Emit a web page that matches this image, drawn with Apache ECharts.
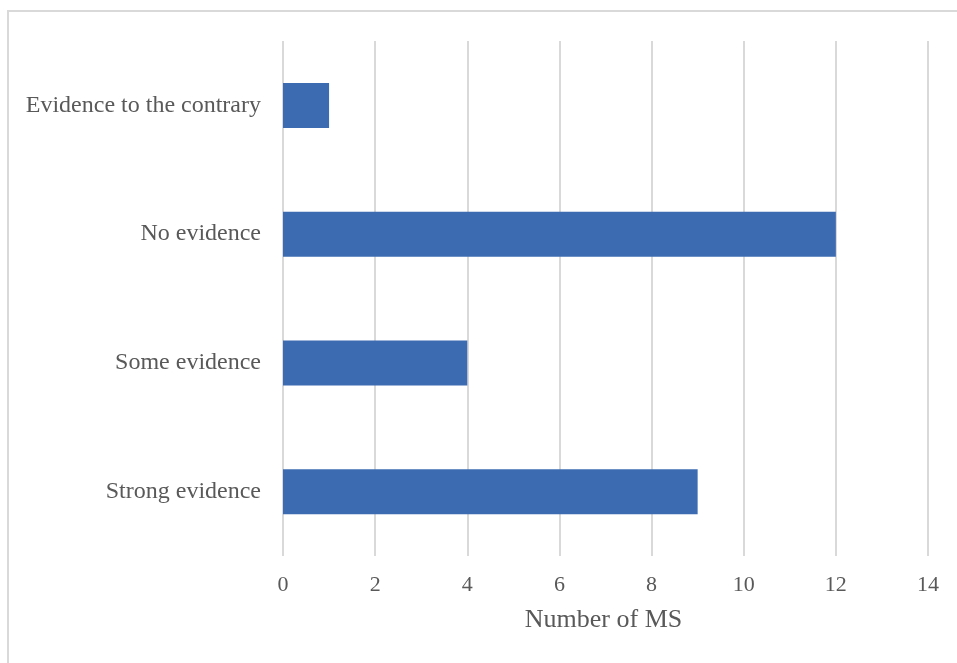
<!DOCTYPE html>
<html><head><meta charset="utf-8">
<script src="https://cdn.jsdelivr.net/npm/echarts@6/dist/echarts.min.js"></script>
<style>html,body{margin:0;padding:0;background:#fff}#c{width:957px;height:663px}</style>
</head><body><div id="c"></div>
<script>
const categories = ["Strong evidence", "Some evidence", "No evidence", "Evidence to the contrary"];
const values = [9, 4, 12, 1];
const xTicks = [0, 2, 4, 6, 8, 10, 12, 14];
const axisTitle = "Number of MS";

const chart = echarts.init(document.getElementById('c'), null, {renderer: 'canvas'});
const font = '"Liberation Serif", "Times New Roman", serif';
chart.setOption({
  animation: false,
  backgroundColor: '#fff',
  graphic: [{
    type: 'rect', shape: {x: 8, y: 11, width: 960, height: 700},
    style: {fill: 'none', stroke: '#d9d9d9', lineWidth: 2}, silent: true
  }],
  grid: {left: 283, right: 29, top: 41, bottom: 107, containLabel: false},
  xAxis: {
    type: 'value', min: xTicks[0], max: xTicks[xTicks.length - 1], interval: 2,
    name: axisTitle, nameLocation: 'middle', nameGap: 51,
    nameTextStyle: {fontFamily: font, fontSize: 26, color: '#595959', padding: [0, 4, 0, 0]},
    axisLine: {show: false}, axisTick: {show: false},
    axisLabel: {fontFamily: font, fontSize: 22, color: '#595959', margin: 18},
    splitLine: {show: true, lineStyle: {color: '#d9d9d9', width: 2}}
  },
  yAxis: {
    type: 'category', data: categories,
    axisLine: {show: false}, axisTick: {show: false},
    axisLabel: {fontFamily: font, fontSize: 24, color: '#595959', margin: 22, padding: [5, 0, 0, 0]}
  },
  series: [{
    type: 'bar', data: values, barWidth: 45,
    itemStyle: {color: '#3d6bb2'}
  }]
});
</script></body></html>
